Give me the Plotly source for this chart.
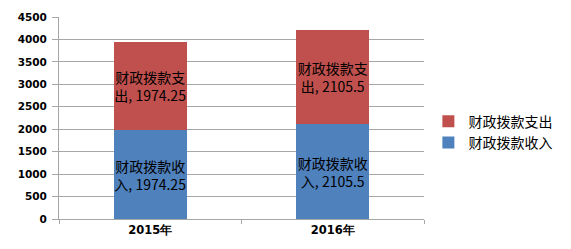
import plotly.graph_objects as go

categories = ["2015年", "2016年"]
income_name = "财政拨款收入"
expense_name = "财政拨款支出"
income_values = [1974.25, 2105.5]
expense_values = [1974.25, 2105.5]
y_ticks = [0, 500, 1000, 1500, 2000, 2500, 3000, 3500, 4000, 4500]

def labels(name, vals):
    return [f"{name[:5]}<br>{name[5:]}, {v:g}" for v in vals]

cjk = "Noto Sans CJK SC"
fig = go.Figure()
fig.add_trace(go.Bar(
    x=categories, y=income_values, name=income_name,
    marker=dict(color="#4F81BD", line=dict(width=0)),
    text=labels(income_name, income_values), textposition="inside",
    insidetextanchor="middle", constraintext="none", textangle=0,
    textfont=dict(family=cjk, size=14, color="#000000"),
    hoverinfo="skip",
))
fig.add_trace(go.Bar(
    x=categories, y=expense_values, name=expense_name,
    marker=dict(color="#C0504D", line=dict(width=0)),
    text=labels(expense_name, expense_values), textposition="inside",
    insidetextanchor="middle", constraintext="none", textangle=0,
    textfont=dict(family=cjk, size=14, color="#000000"),
    hoverinfo="skip",
))

fig.update_layout(
    barmode="stack", bargap=0.6,
    width=571, height=249,
    margin=dict(l=59, r=147, t=11, b=30),
    paper_bgcolor="white", plot_bgcolor="white",
    showlegend=True,
    legend=dict(x=1.012, y=0.43, xanchor="left", yanchor="middle",
                traceorder="reversed", font=dict(family=cjk, size=14, color="#000000"),
                itemwidth=30, tracegroupgap=0),
    uniformtext=dict(mode=False),
)
fig.update_yaxes(
    range=[0, 4500], tickvals=y_ticks, showgrid=True, gridcolor="#A6A6A6", gridwidth=1,
    showline=True, linecolor="#A6A6A6", linewidth=1, ticks="outside", ticklen=6,
    tickcolor="#A6A6A6", zeroline=False, ticklabelstandoff=3,
    tickfont=dict(family="DejaVu Sans", size=10.5, color="#000000", weight="bold"),
)
fig.update_xaxes(
    showgrid=False, showline=True, linecolor="#A6A6A6", linewidth=1,
    ticks="outside", ticklen=4, tickcolor="#A6A6A6", tickson="boundaries",
    tickfont=dict(family="DejaVu Sans", size=11.5, color="#000000", weight="bold"),
)

fig.write_html("out.html")
